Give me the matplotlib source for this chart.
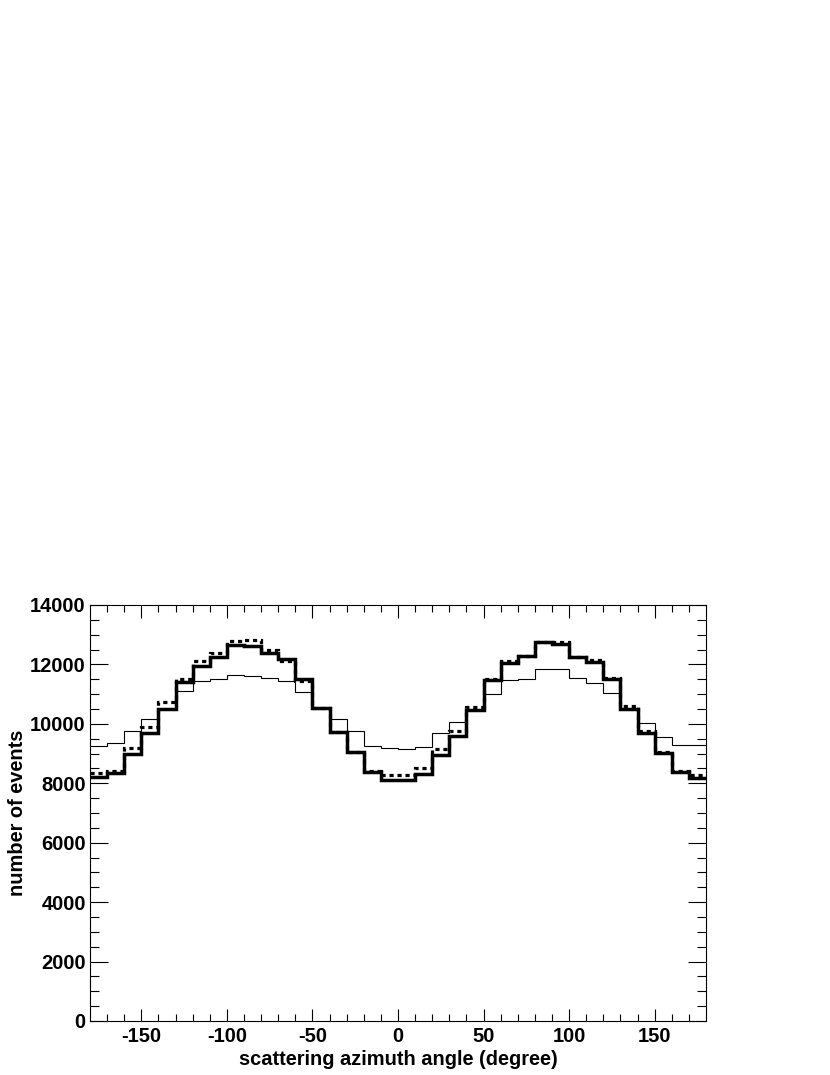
import numpy as np
import matplotlib
matplotlib.use("Agg")
import matplotlib.pyplot as plt

plt.rcParams['font.family'] = ['Liberation Sans', 'DejaVu Sans']
plt.rcParams['font.weight'] = 'bold'
plt.rcParams['axes.unicode_minus'] = False

# bin edges of the azimuth histogram (degree)
edges = np.arange(-180, 181, 10)

# thick solid histogram
thick = [8200, 8340, 8970, 9700, 10490, 11420, 11950, 12240, 12640, 12630,
         12370, 12180, 11520, 10540, 9710, 9040, 8390, 8110,
         8120, 8310, 8940, 9590, 10460, 11460, 12060, 12290, 12740, 12700,
         12240, 12090, 11500, 10510, 9680, 9030, 8370, 8190]

# dotted histogram
dotted = [8330, 8420, 9200, 9890, 10720, 11510, 12110, 12370, 12800, 12820,
          12480, 12100, 11440, 10540, 9710, 9040, 8410, 8270,
          8290, 8500, 9155, 9770, 10580, 11500, 12110, 12300, 12770, 12770,
          12250, 12150, 11530, 10600, 9750, 9060, 8400, 8290]

# thin solid histogram
thin = [9265, 9340, 9760, 10150, 10490, 11110, 11440, 11500, 11640, 11620,
        11540, 11440, 11060, 10540, 10150, 9770, 9256, 9200,
        9170, 9233, 9680, 10054, 10460, 10990, 11460, 11520, 11830, 11850,
        11560, 11370, 11040, 10510, 10040, 9570, 9280, 9300]

fig = plt.figure(figsize=(8.3, 10.75), dpi=100)
ax = fig.add_axes([90/830, 1 - 1021/1075, 616/830, 416/1075])

ax.stairs(thin, edges, color='black', linewidth=0.8, baseline=None)
ax.stairs(thick, edges, color='black', linewidth=2.5, baseline=None)
ax.stairs(dotted, edges, color='black', linewidth=2.3,
          linestyle=(0, (1.3, 1.2)), baseline=None)

ax.set_xlim(-180, 180)
ax.set_ylim(0, 14000)
ax.set_xticks([-150, -100, -50, 0, 50, 100, 150])
ax.set_xticks(np.arange(-170, 180, 10), minor=True)
ax.set_yticks(np.arange(0, 14001, 2000))
ax.set_yticks(np.arange(0, 14001, 500), minor=True)

ax.tick_params(axis='both', which='both', direction='in', top=True, right=True,
               width=0.8, color='black', labelsize=14.5)
ax.tick_params(axis='x', which='major', length=9, pad=4)
ax.tick_params(axis='x', which='minor', length=4.8)
ax.tick_params(axis='y', which='major', length=13, pad=3)
ax.tick_params(axis='y', which='minor', length=6.5)
for lab in ax.get_xticklabels() + ax.get_yticklabels():
    lab.set_fontweight('bold')
for s in ax.spines.values():
    s.set_linewidth(0.8)

ax.set_xlabel("scattering azimuth angle (degree)", fontsize=14.4,
              fontweight='bold', labelpad=3)
ax.set_ylabel("number of events", fontsize=14.4, fontweight='bold', labelpad=2)

fig.savefig("out.png", dpi=100)
